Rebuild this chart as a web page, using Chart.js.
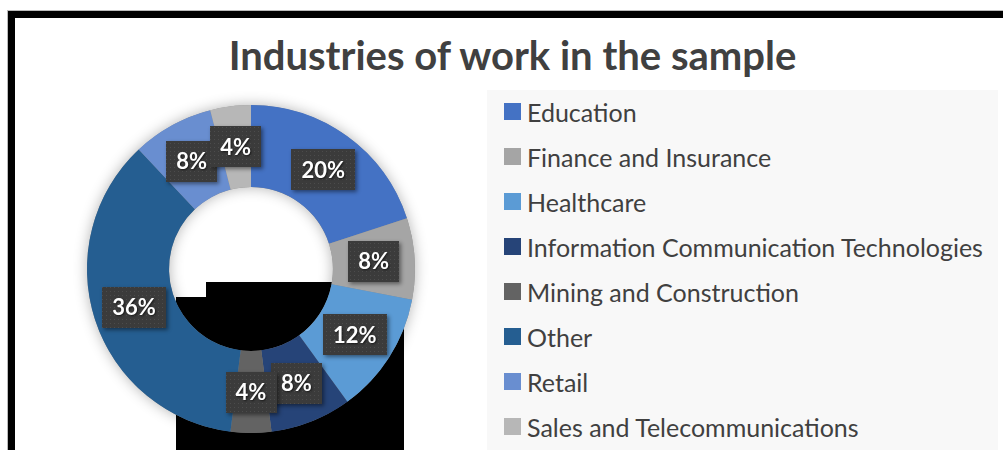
<!DOCTYPE html>
<html>
<head>
<meta charset="utf-8">
<script src="https://cdn.jsdelivr.net/npm/chart.js@4/dist/chart.umd.min.js"></script>
<style>
  html, body { margin:0; padding:0; background:#fff; }
  body { width:1003px; height:450px; overflow:hidden; position:relative; font-family:Lato, 'Open Sans', sans-serif; }
  #frame {
    position:absolute; left:8px; top:11px; width:1100px; height:500px;
    border-top:7px solid #000; border-left:7px solid #000;
    box-shadow:-1px -1px 0 #bbb;
  }
  .blk { position:absolute; background:#000; }
  #title {
    position:absolute; left:0; top:32px; width:1025px; text-align:center;
    font:bold 40px Lato, sans-serif; line-height:46px; color:#404040;
  }
  #legend {
    position:absolute; left:487px; top:90px; width:511px; height:370px; background:#f8f8f8;
  }
  .lg-item { position:absolute; left:17px; height:30px; line-height:30px; font-size:25px; color:#404040; white-space:nowrap; }
  .lg-item i { position:absolute; left:0; top:6px; width:17px; height:17px; }
  .lg-item span { position:absolute; left:23px; top:0; }
  #wrap { position:absolute; left:17px; top:18px; width:470px; height:432px; }
</style>
</head>
<body>
<div id="frame"></div>
<div class="blk" style="left:206px;top:282px;width:198px;height:168px"></div>
<div class="blk" style="left:176px;top:297px;width:30px;height:153px"></div>
<div id="title">Industries of work in the sample</div>
<div id="legend"></div>
<div id="wrap"><canvas id="donut" width="470" height="432"></canvas></div>
<script>
// industries and their share of the sample (%)
const industries = [
  'Education',
  'Finance and Insurance',
  'Healthcare',
  'Information Communication Technologies',
  'Mining and Construction',
  'Other',
  'Retail',
  'Sales and Telecommunications',
];
const shares = [20, 8, 12, 8, 4, 36, 8, 4];
const sliceColors = ['#4472c4', '#a5a5a5', '#5b9bd5', '#264478', '#636363', '#255e91', '#698ed0', '#b7b7b7'];

// legend on the grey panel
const legendEl = document.getElementById('legend');
industries.forEach((name, i) => {
  const row = document.createElement('div');
  row.className = 'lg-item';
  row.style.top = (7 + i * 45) + 'px';
  row.innerHTML = `<i style="background:${sliceColors[i]}"></i><span>${name}</span>`;
  legendEl.appendChild(row);
});

// soft shadow under the whole ring, drawn once so slices don't shade each other
const ringShadow = {
  id: 'ringShadow',
  beforeDatasetsDraw(chart) {
    const arcs = chart.getDatasetMeta(0).data;
    if (!arcs.length) return;
    const { x, y, innerRadius, outerRadius } = arcs[0].getProps(['x', 'y', 'innerRadius', 'outerRadius'], true);
    const ctx = chart.ctx;
    ctx.save();
    ctx.shadowColor = 'rgba(0,0,0,0.3)';
    ctx.shadowBlur = 14;
    ctx.fillStyle = '#888';
    ctx.beginPath();
    ctx.arc(x, y, outerRadius, 0, Math.PI * 2);
    ctx.arc(x, y, innerRadius, 0, Math.PI * 2, true);
    ctx.fill();
    ctx.restore();
  }
};

// dotted fill for the dark label boxes
const dots = document.createElement('canvas');
dots.width = 4; dots.height = 4;
const dctx = dots.getContext('2d');
dctx.fillStyle = 'rgba(255,255,255,0.09)';
dctx.fillRect(1, 1, 1, 1);

const boxLabels = {
  id: 'boxLabels',
  afterDatasetsDraw(chart) {
    const ctx = chart.ctx;
    const pattern = ctx.createPattern(dots, 'repeat');
    ctx.save();
    ctx.font = 'bold 22px Lato, sans-serif';
    ctx.textAlign = 'center';
    ctx.textBaseline = 'middle';
    chart.getDatasetMeta(0).data.forEach((arc, i) => {
      const p = arc.getProps(['x', 'y', 'startAngle', 'endAngle', 'innerRadius', 'outerRadius'], true);
      const a = (p.startAngle + p.endAngle) / 2;
      const r = (p.innerRadius + p.outerRadius) / 2;
      const cx = p.x + Math.cos(a) * r;
      const cy = p.y + Math.sin(a) * r;
      const txt = shares[i] + '%';
      const w = Math.round(ctx.measureText(txt).width + 20);
      const h = 41;
      const bx = Math.round(cx - w / 2), by = Math.round(cy - h / 2);

      ctx.save();
      ctx.shadowColor = 'rgba(0,0,0,0.45)';
      ctx.shadowBlur = 4;
      ctx.shadowOffsetX = 2;
      ctx.shadowOffsetY = 2;
      ctx.fillStyle = '#3b3b3b';
      ctx.fillRect(bx, by, w, h);
      ctx.restore();
      ctx.fillStyle = pattern;
      ctx.fillRect(bx, by, w, h);

      ctx.save();
      ctx.shadowColor = 'rgba(0,0,0,0.6)';
      ctx.shadowBlur = 2;
      ctx.shadowOffsetX = 1;
      ctx.shadowOffsetY = 1;
      ctx.fillStyle = '#ffffff';
      ctx.fillText(txt, cx, cy + 1);
      ctx.restore();
    });
    ctx.restore();
  }
};

new Chart(document.getElementById('donut'), {
  type: 'doughnut',
  data: {
    labels: industries,
    datasets: [{
      data: shares,
      backgroundColor: sliceColors,
      borderWidth: 0,
      hoverOffset: 0,
      radius: 164,
    }]
  },
  options: {
    responsive: false,
    animation: false,
    cutout: '50%',
    layout: { padding: { left: 0, right: 2, top: 70, bottom: 0 } },
    plugins: {
      legend: { display: false },
      tooltip: { enabled: false },
    },
  },
  plugins: [ringShadow, boxLabels],
});
</script>
</body>
</html>
